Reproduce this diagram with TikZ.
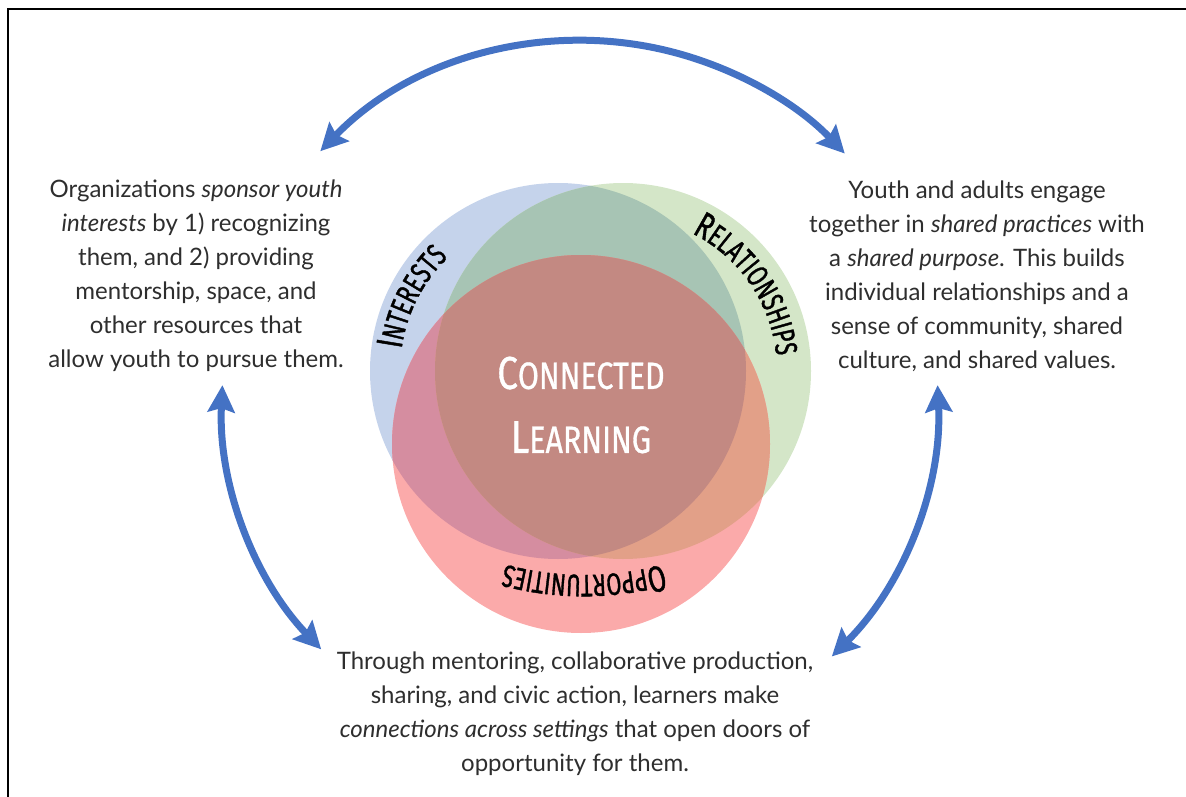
\documentclass[tikz,border=0pt]{standalone}
\usepackage{fontspec}
\setmainfont{Lato}
\newfontfamily\headfont[FakeStretch=0.7,FakeBold=1.2]{Fira Sans}
\newfontfamily\centerfont[FakeStretch=0.8,FakeBold=0.8]{Fira Sans}
\usetikzlibrary{arrows.meta,decorations.text,calc}
\definecolor{cB}{HTML}{C5D3EB}
\definecolor{cG}{HTML}{D4E6C8}
\definecolor{cR}{HTML}{FBAAAA}
\definecolor{cBG}{HTML}{A7C4B4}
\definecolor{cBR}{HTML}{D58DA0}
\definecolor{cGR}{HTML}{E2A088}
\definecolor{cBGR}{HTML}{C38982}
\definecolor{arrowblue}{HTML}{4472C4}
\tikzset{
  para/.style={align=center, text=black!82, font=\fontsize{24}{34}\selectfont, inner sep=0pt},
  cyclearrow/.style={draw=arrowblue, line width=7pt, {Stealth[length=27pt,width=27pt,inset=4pt]}-{Stealth[length=27pt,width=27pt,inset=4pt]}},
  frame/.style={draw=black, line width=2pt},
}
\begin{document}
\begin{tikzpicture}[x=1pt,y=1pt]
\useasboundingbox (0,0) rectangle (1186,-797);
\draw[frame] (8,-800) -- (8,-9) -- (1190,-9);

% Venn circles
\coordinate (cb) at (558,-371);
\coordinate (cg) at (623,-371);
\coordinate (cr) at (581,-444);
\def\rb{188}\def\rg{188}\def\rr{189}
\fill[cB] (cb) circle[radius=\rb];
\fill[cG] (cg) circle[radius=\rg];
\fill[cR] (cr) circle[radius=\rr];
\begin{scope}\clip (cb) circle[radius=\rb]; \fill[cBG] (cg) circle[radius=\rg];\end{scope}
\begin{scope}\clip (cb) circle[radius=\rb]; \fill[cBR] (cr) circle[radius=\rr];\end{scope}
\begin{scope}\clip (cg) circle[radius=\rg]; \fill[cGR] (cr) circle[radius=\rr];\end{scope}
\begin{scope}\clip (cb) circle[radius=\rb]; \clip (cg) circle[radius=\rg]; \fill[cBGR] (cr) circle[radius=\rr];\end{scope}

% curved labels
\path[decorate, decoration={text along path, text align=center,
  text={|\headfont\fontsize{37}{37}\selectfont|I|\headfont\fontsize{31}{31}\selectfont|NTERESTS}}]
  ($(cb)+(200:158)$) arc[start angle=200, end angle=106, radius=158];
\path[decorate, decoration={text along path, text align=center,
  text={|\headfont\fontsize{37}{37}\selectfont|R|\headfont\fontsize{31}{31}\selectfont|ELATIONSHIPS}}]
  ($(cg)+(85:154)$) arc[start angle=85, end angle=-16, radius=154];
\coordinate (co) at (584,-275);
\path[decorate, decoration={text along path, text align=center,
  text={|\headfont\fontsize{37}{37}\selectfont|O|\headfont\fontsize{31}{31}\selectfont|PPORTUNITIES}}]
  ($(co)+(-55:300)$) arc[start angle=-55, end angle=-125, radius=300];

% center label
\node[text=white, align=center, inner sep=0pt, font=\centerfont\fontsize{38}{64}\selectfont] (cl) at (581,-405)
  {{\fontsize{46}{46}\selectfont C}ONNECTED\\{\fontsize{46}{46}\selectfont L}EARNING};

% paragraphs
\node[para] (ltext) at (196,-276) {Organizations \textit{sponsor youth}\\ \textit{interests} by 1) recognizing\\ them, and 2) providing\\ mentorship, space, and\\ other resources that\\ allow youth to pursue them.};
\node[para] (rtext) at (977,-276) {Youth and adults engage\\ together in \textit{shared practices} with\\ a \textit{shared purpose}. This builds\\ individual relationships and a\\ sense of community, shared\\ culture, and shared values.};
\node[para] (btext) at (575,-714) {Through mentoring, collaborative production,\\ sharing, and civic action, learners make\\ \textit{connections across settings} that open doors of\\ opportunity for them.};

% cycle arrows
\coordinate (oc) at (580,-402);
\coordinate (t1) at ($(oc)+(136:361)$);
\coordinate (t2) at ($(oc)+(43.5:362)$);
\coordinate (l1) at ($(oc)+(177.3:358)$);
\coordinate (l2) at ($(oc)+(223.7:357)$);
\coordinate (r1) at ($(oc)+(2.7:358)$);
\coordinate (r2) at ($(oc)+(-45.3:356)$);
\draw[cyclearrow] (t1) arc[start angle=136, end angle=43.5, radius=363];
\draw[cyclearrow] (l1) arc[start angle=177.3, end angle=223.7, radius=358];
\draw[cyclearrow] (r1) arc[start angle=2.7, end angle=-45.3, radius=358];
\end{tikzpicture}
\end{document}
